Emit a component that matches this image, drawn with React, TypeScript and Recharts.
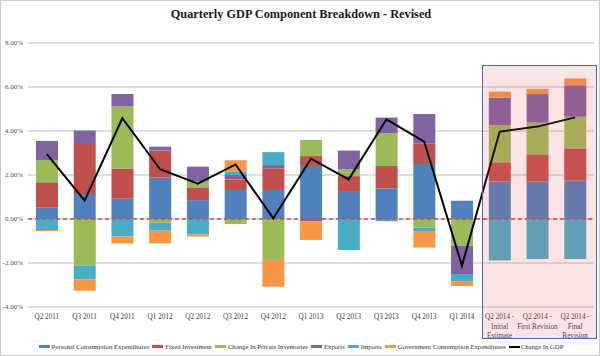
import React from "react";
import {
  ComposedChart,
  Bar,
  Line,
  XAxis,
  YAxis,
  CartesianGrid,
  ReferenceLine,
} from "recharts";

const categories = [
  "Q2 2011",
  "Q3 2011",
  "Q4 2011",
  "Q1 2012",
  "Q2 2012",
  "Q3 2012",
  "Q4 2012",
  "Q1 2013",
  "Q2 2013",
  "Q3 2013",
  "Q4 2013",
  "Q1 2014",
  "Q2 2014 -\nInitial\nEstimate",
  "Q2 2014 -\nFirst Revision",
  "Q2 2014 -\nFinal\nRevision",
];

const pce = [0.52, 1.14, 0.92, 1.88, 0.86, 1.32, 1.32, 2.41, 1.23, 1.39, 2.5, 0.83, 1.7, 1.7, 1.74];
const fixedInv = [1.15, 2.27, 1.37, 1.23, 0.58, 0.48, 0.98, 0.45, 0.72, 1.02, 0.94, 0, 0.88, 1.24, 1.47];
const inventories = [1.01, -2.12, 2.82, -0.17, 0.26, -0.23, -1.86, 0.73, 0.31, 1.48, -0.39, -1.21, 1.69, 1.44, 1.44];
const exportsData = [0.87, 0.61, 0.57, 0.18, 0.68, 0.2, 0.15, -0.1, 0.85, 0.72, 1.33, -1.29, 1.25, 1.3, 1.43];
const imports = [-0.5, -0.62, -0.8, -0.36, -0.7, 0.15, 0.59, 0, -1.41, -0.1, -0.19, -0.35, -1.89, -1.82, -1.82];
const govt = [-0.05, -0.52, -0.31, -0.58, -0.1, 0.52, -1.22, -0.85, 0, 0, -0.72, -0.2, 0.27, 0.24, 0.31];
const gdp = [2.95, 0.83, 4.58, 2.26, 1.61, 2.48, 0.03, 2.74, 1.8, 4.53, 3.52, -2.12, 3.97, 4.2, 4.62];

const yTicks = [-4, -2, 0, 2, 4, 6, 8];

const series = [
  { key: "pce", name: "Personal Consumption Expenditures", color: "#4f81bd" },
  { key: "fixedInv", name: "Fixed Investment", color: "#c0504d" },
  { key: "inventories", name: "Change In Private Inventories", color: "#9bbb59" },
  { key: "exports", name: "Exports", color: "#8064a2" },
  { key: "imports", name: "Imports", color: "#4bacc6" },
  { key: "govt", name: "Government Consumption Expenditures", color: "#f79646" },
];

const data = categories.map((c, i) => ({
  name: c,
  pce: pce[i],
  fixedInv: fixedInv[i],
  inventories: inventories[i],
  exports: exportsData[i],
  imports: imports[i],
  govt: govt[i],
  gdp: gdp[i],
}));

const FONT = "'Liberation Serif', 'Times New Roman', serif";

const CatTick = (props: any) => {
  const { x, y, payload } = props;
  const lines = String(payload.value).split("\n");
  return (
    <text x={x} y={y} textAnchor="middle" fontSize={7.2} fill="#404040" fontFamily={FONT}>
      {lines.map((l: string, i: number) => (
        <tspan key={i} x={x} dy={i === 0 ? 8 : 9.5}>
          {l}
        </tspan>
      ))}
    </text>
  );
};

const App = () => {
  return (
    <div
      style={{
        position: "relative",
        width: 600,
        height: 356,
        boxSizing: "border-box",
        border: "1px solid #cccccc",
        background: "#fff",
        overflow: "hidden",
      }}
    >
      <style>{"body{margin:0}"}</style>
      <div
        style={{
          position: "absolute",
          top: 6,
          left: 0,
          width: 600,
          textAlign: "center",
          fontFamily: FONT,
          fontWeight: "bold",
          fontSize: 12.3,
          color: "#1a1a1a",
        }}
      >
        Quarterly GDP Component Breakdown - Revised
      </div>
      <div style={{ position: "absolute", top: -1, left: -1 }}>
        <ComposedChart
          width={600}
          height={356}
          data={data}
          stackOffset="sign"
          margin={{ top: 43, right: 6, bottom: 19, left: 0 }}
          barSize={22}
        >
          <CartesianGrid vertical={false} stroke="#bfbfbf" />
          <XAxis
            dataKey="name"
            axisLine={false}
            tickLine={false}
            interval={0}
            height={30}
            tick={<CatTick />}
            tickSize={2}
          />
          <YAxis
            domain={[-4, 8]}
            ticks={yTicks}
            width={28}
            axisLine={false}
            tickLine={false}
            tickSize={3}
            tick={{ fontSize: 7, fill: "#505050", fontFamily: FONT }}
            tickFormatter={(v: number) => `${v.toFixed(2)}%`}
            allowDataOverflow
          />
          {series.map((s) => (
            <Bar
              key={s.key}
              dataKey={s.key}
              name={s.name}
              stackId="a"
              fill={s.color}
              isAnimationActive={false}
            />
          ))}
          <ReferenceLine y={0} stroke="#c0504d" strokeDasharray="4 3" strokeWidth={1.5} />
          <Line
            dataKey="gdp"
            name="Change In GDP"
            stroke="#000"
            strokeWidth={2}
            dot={false}
            type="linear"
            isAnimationActive={false}
          />
        </ComposedChart>
      </div>
      <div
        style={{
          position: "absolute",
          left: 481,
          top: 64,
          width: 115,
          height: 274,
          boxSizing: "border-box",
          border: "1.5px solid #3d6fb3",
          background: "rgba(235, 90, 90, 0.16)",
          pointerEvents: "none",
        }}
      />
      <div
        style={{
          position: "absolute",
          top: 342,
          left: 0,
          width: 600,
          display: "flex",
          justifyContent: "center",
          fontFamily: FONT,
          fontSize: 6.7,
          color: "#333",
          whiteSpace: "nowrap",
        }}
      >
        {series.map((s) => (
          <span key={s.key} style={{ display: "flex", alignItems: "center", marginRight: 3 }}>
            <span style={{ display: "inline-block", width: 11, height: 3, background: s.color, marginRight: 2 }} />
            {s.name}
          </span>
        ))}
        <span style={{ display: "flex", alignItems: "center" }}>
          <span style={{ display: "inline-block", width: 11, height: 2, background: "#000", marginRight: 1 }} />
          Change In GDP
        </span>
      </div>
    </div>
  );
};

export default App;
